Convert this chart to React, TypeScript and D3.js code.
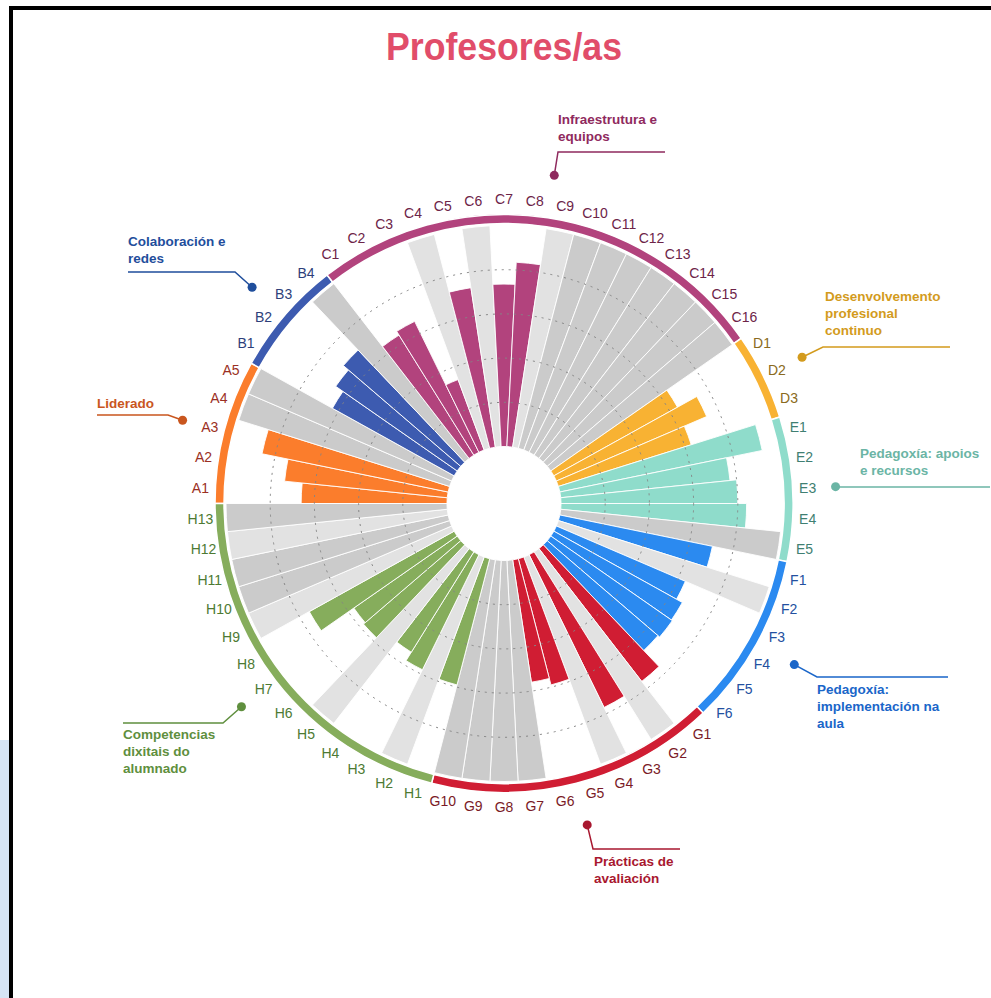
import * as d3 from "d3";

// areas of the SELFIE questionnaire
const groupKeys = ["A", "B", "C", "D", "E", "F", "G", "H"];
const groupSizes = [5, 4, 16, 3, 5, 6, 10, 13];
const groupNames = [
  ["Liderado"],
  ["Colaboración e", "redes"],
  ["Infraestrutura e", "equipos"],
  ["Desenvolvemento", "profesional", "continuo"],
  ["Pedagoxía: apoios", "e recursos"],
  ["Pedagoxía:", "implementación na", "aula"],
  ["Prácticas de", "avaliación"],
  ["Competencias", "dixitais do", "alumnado"],
];

// item scores (%), null = item not shown for this group (grey bar)
const valuesA = [66, 74, 86, null, null];
const valuesB = [63, 67, 70, null];
const valuesC = [64, 66, 34, null, 73, null, 73.5, 83.5, null, null, null, null, null, null, null, null];
const valuesD = [64, 74, 63];
const valuesE = [93.5, 77, 80, 84, null];
const valuesF = [70.5, null, 63.5, 66.5, 67, 66];
const valuesG = [76, null, 77, null, 59, 56, null, null, null, null];
const valuesH = [59, null, 58, 53.5, null, 58, 57, 75, null, null, null, null, null];

// grey bars drawn in the lighter shade
const lightGreyItems = ["C4", "C6", "C9", "F2", "G2", "G4", "H2", "H5", "H9", "H12"];

const gridTicks = [20, 40, 60, 80];

const barColors = ["#fb7d2c", "#3d5bb0", "#b2437d", "#f8b233", "#8fdccb", "#2b8af0", "#d01d33", "#86ad5c"];
const tickColors = ["#9b3024", "#2e3f7a", "#6d2448", "#8a6a20", "#3f7f72", "#2350a0", "#7a1a26", "#4d7a33"];
const noteColors = ["#c9561e", "#1f4e9c", "#8f2a5e", "#d39b1d", "#6bb5a5", "#1a66c9", "#a8172f", "#5f8f3e"];

// leader line layout for the area names
const notes = [
  { elbow: [168, 415], endX: 97, textX: 97, textY: 408 },
  { elbow: [235, 272], endX: 128, textX: 128, textY: 246 },
  { elbow: [558, 152], endX: 665, textX: 558, textY: 124 },
  { elbow: [823, 347], endX: 950, textX: 825, textY: 301 },
  { elbow: [837, 487], endX: 990, textX: 860, textY: 458 },
  { elbow: [817, 677], endX: 948, textX: 817, textY: 694 },
  { elbow: [593, 849], endX: 680, textX: 594, textY: 866 },
  { elbow: [223, 723], endX: 123, textX: 123, textY: 739 },
];

const cx = 504;
const cy = 503.5;

export default function App() {
  const values = [...valuesA, ...valuesB, ...valuesC, ...valuesD, ...valuesE, ...valuesF, ...valuesG, ...valuesH];
  const items = groupKeys.flatMap((k, gi) =>
    d3.range(1, groupSizes[gi] + 1).map((j) => ({ key: `${k}${j}`, group: gi }))
  );
  const n = items.length;

  const angle = d3.scaleLinear().domain([0, n]).range([-Math.PI / 2, (3 * Math.PI) / 2]);
  const r = d3.scaleLinear().domain([0, 100]).range([57, 278]);
  const arc = d3.arc();
  const polar = (a: number, rad: number) => [cx + rad * Math.sin(a), cy - rad * Math.cos(a)];

  const starts = d3.cumsum([0, ...groupSizes]);

  return (
    <svg
      width={991}
      height={998}
      style={{ position: "absolute", left: 0, top: 0, background: "#fff" }}
      fontFamily="'Liberation Sans', Arial, sans-serif"
    >
      <rect x={0} y={740} width={9} height={258} fill="#d6e4f5" />
      <rect x={9} y={6} width={982} height={4} fill="#000" />
      <rect x={9} y={6} width={4} height={992} fill="#000" />

      <text x={cx} y={60} textAnchor="middle" fontSize={38} fontWeight="bold" fill="#e14d6a" textLength={236} lengthAdjust="spacingAndGlyphs">
        Profesores/as
      </text>

      <g transform={`translate(${cx},${cy})`}>
        {items.map((it, i) => {
          const v = values[i];
          const fill = v == null
            ? lightGreyItems.includes(it.key) ? "#e2e2e2" : "#cbcbcb"
            : barColors[it.group];
          return (
            <path
              key={it.key}
              d={arc({
                innerRadius: r(0),
                outerRadius: v == null ? r(100) : r(v),
                startAngle: angle(i),
                endAngle: angle(i + 1),
              }) as string}
              fill={fill}
              stroke="#fff"
              strokeWidth={0.9}
            />
          );
        })}
        {gridTicks.map((t) => (
          <circle key={t} r={r(t)} fill="none" stroke="#858585" strokeWidth={1} strokeDasharray="2 5" />
        ))}
        {groupKeys.map((k, gi) => (
          <path
            key={k}
            d={arc({
              innerRadius: 280,
              outerRadius: 289,
              startAngle: angle(starts[gi]),
              endAngle: angle(starts[gi + 1]),
            }) as string}
            fill={barColors[gi]}
            stroke="#fff"
            strokeWidth={1.5}
          />
        ))}
      </g>

      {items.map((it, i) => {
        const [x, y] = polar(angle(i + 0.5), 304);
        return (
          <text key={it.key} x={x} y={y} dy="0.35em" textAnchor="middle" fontSize={14} fill={tickColors[it.group]}>
            {it.key}
          </text>
        );
      })}

      {groupKeys.map((k, gi) => {
        const [dx, dy] = polar((angle(starts[gi]) + angle(starts[gi + 1])) / 2, 332);
        const nt = notes[gi];
        const pts: [number, number][] = [[dx, dy], [nt.elbow[0], nt.elbow[1]], [nt.endX, nt.elbow[1]]];
        return (
          <g key={k}>
            <path d={d3.line()(pts) as string} fill="none" stroke={noteColors[gi]} strokeWidth={1.5} />
            <circle cx={dx} cy={dy} r={4.5} fill={noteColors[gi]} />
            {groupNames[gi].map((line, li) => (
              <text key={li} x={nt.textX} y={nt.textY + li * 17} fontSize={13.5} fontWeight="bold" fill={noteColors[gi]}>
                {line}
              </text>
            ))}
          </g>
        );
      })}
    </svg>
  );
}
